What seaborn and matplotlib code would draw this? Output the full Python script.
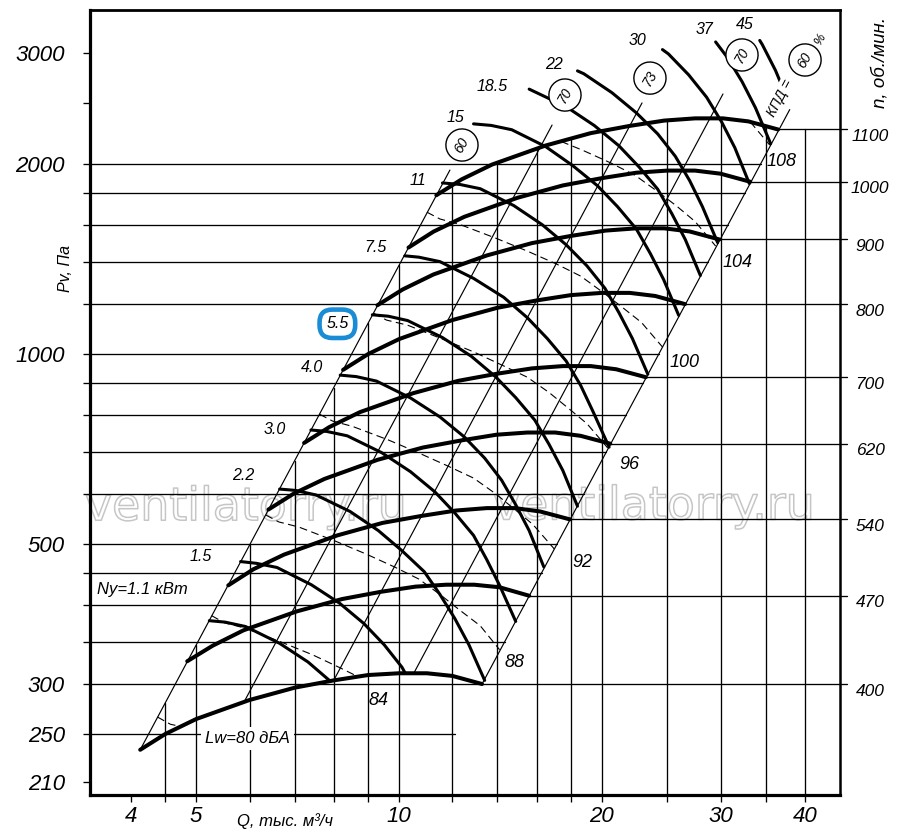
import numpy as np
import pandas as pd
import matplotlib
matplotlib.use("Agg")
import matplotlib.pyplot as plt
import matplotlib.patheffects as pe
from matplotlib.ticker import FixedLocator, FixedFormatter, NullLocator
import seaborn as sns

# ---------- data (Q in thousand m3/h, Pv in Pa) ----------
rpm_labels = ["400", "470", "540", "620", "700", "800", "900", "1000", "1100"]
rpm_Q = [
    [4.13, 4.5, 5.0, 6.0, 7.0, 8.0, 9.0, 10.0, 11.0, 12.0, 13.28],
    [4.85, 5.29, 5.88, 7.05, 8.23, 9.40, 10.58, 11.75, 12.93, 14.1, 15.6],
    [5.58, 6.08, 6.75, 8.10, 9.45, 10.8, 12.15, 13.5, 14.85, 16.2, 17.93],
    [6.40, 6.98, 7.75, 9.30, 10.85, 12.4, 13.95, 15.5, 17.05, 18.6, 20.58],
    [7.23, 7.88, 8.75, 10.5, 12.25, 14.0, 15.75, 17.5, 19.25, 21.0, 23.24],
    [8.26, 9.0, 10.0, 12.0, 14.0, 16.0, 18.0, 20.0, 22.0, 24.0, 26.56],
    [9.29, 10.13, 11.25, 13.5, 15.75, 18.0, 20.25, 22.5, 24.75, 27.0, 29.88],
    [10.33, 11.25, 12.5, 15.0, 17.5, 20.0, 22.5, 25.0, 27.5, 30.0, 33.2],
    [11.36, 12.38, 13.75, 16.5, 19.25, 22.0, 24.75, 27.5, 30.25, 33.0, 36.52],
]
rpm_P = [
    [236, 250, 264, 283, 296, 304, 310, 312, 312, 309, 300],
    [326, 345, 365, 391, 409, 420, 428, 431, 431, 427, 414],
    [430, 456, 481, 516, 540, 554, 565, 570, 570, 563, 547],
    [567, 601, 634, 680, 711, 730, 745, 751, 751, 742, 721],
    [723, 766, 809, 867, 907, 931, 949, 957, 957, 946, 919],
    [944, 1000, 1056, 1132, 1184, 1216, 1240, 1250, 1250, 1236, 1200],
    [1195, 1266, 1337, 1433, 1499, 1539, 1569, 1582, 1582, 1564, 1519],
    [1475, 1563, 1650, 1769, 1850, 1900, 1938, 1953, 1953, 1931, 1875],
    [1785, 1891, 1997, 2140, 2239, 2299, 2344, 2363, 2363, 2337, 2269],
]

power_labels = ["1.1", "1.5", "2.2", "3.0", "4.0", "5.5", "7.5", "11", "15", "18.5", "22", "30", "37", "45"]
power_Q = [
    [5.23, 5.52, 5.92, 6.65, 7.33, 7.91],
    [5.82, 6.14, 6.59, 7.41, 8.16, 8.87, 9.51, 10.1, 10.2],
    [6.65, 7.02, 7.53, 8.46, 9.32, 10.1, 10.9, 11.5, 12.1, 12.7, 13.4],
    [7.40, 7.81, 8.38, 9.42, 10.4, 11.3, 12.1, 12.9, 13.5, 14.1, 14.9],
    [8.18, 8.64, 9.26, 10.4, 11.5, 12.5, 13.4, 14.2, 14.9, 15.6, 16.4],
    [9.13, 9.64, 10.3, 11.6, 12.8, 13.9, 14.9, 15.9, 16.7, 17.5, 18.4],
    [10.2, 10.7, 11.5, 12.9, 14.3, 15.5, 16.6, 17.7, 18.6, 19.4, 20.5],
    [11.6, 12.3, 13.2, 14.8, 16.3, 17.7, 19.0, 20.2, 21.2, 22.2, 23.4],
    [12.9, 13.7, 14.7, 16.5, 18.1, 19.7, 21.1, 22.5, 23.6, 24.7, 26.0],
    [15.6, 17.7, 19.5, 21.2, 22.7, 24.2, 25.4, 26.6, 28.0],
    [18.4, 18.8, 20.7, 22.5, 24.2, 25.7, 27.0, 28.2, 29.7],
    [24.6, 25.1, 26.9, 28.6, 30.1, 31.5, 33.1],
    [29.5, 30.7, 32.3, 33.8, 35.6],
    [34.3, 34.6, 36.2, 36.8],
]
power_P = [
    [378, 376, 370, 348, 325, 303],
    [469, 466, 459, 431, 403, 374, 346, 319, 313],
    [611, 608, 598, 563, 525, 488, 452, 416, 381, 346, 304],
    [758, 754, 742, 698, 651, 605, 560, 516, 472, 430, 377],
    [926, 921, 906, 852, 795, 739, 684, 631, 577, 525, 460],
    [1154, 1148, 1130, 1062, 992, 921, 853, 786, 719, 654, 574],
    [1431, 1424, 1401, 1318, 1230, 1142, 1058, 975, 892, 811, 712],
    [1867, 1857, 1828, 1719, 1604, 1490, 1380, 1272, 1163, 1058, 929],
    [2316, 2303, 2267, 2132, 1989, 1848, 1712, 1578, 1443, 1312, 1152],
    [2629, 2466, 2301, 2138, 1980, 1825, 1669, 1518, 1332],
    [2810, 2781, 2595, 2411, 2233, 2058, 1882, 1712, 1502],
    [3037, 2990, 2770, 2553, 2334, 2123, 1863],
    [3123, 2952, 2700, 2456, 2155],
    [3140, 3093, 2814, 2698],
]

noise_labels = ["80", "84", "88", "92", "96", "100", "104", "108"]
noise_Q = [
    [4.38, 4.58, 4.74],
    [5.27, 5.51, 5.9, 6.67, 7.43, 8.19, 8.7],
    [6.34, 6.63, 7.1, 8.02, 8.94, 9.84, 10.7, 11.5, 12.3, 13.2, 14.1],
    [7.62, 7.97, 8.53, 9.64, 10.7, 11.8, 12.9, 13.9, 14.8, 15.8, 17.0],
    [9.16, 9.58, 10.3, 11.6, 12.9, 14.2, 15.5, 16.7, 17.8, 19.0, 20.4],
    [11.0, 11.5, 12.3, 13.9, 15.5, 17.1, 18.6, 20.0, 21.4, 22.9, 24.6],
    [17.4, 18.7, 20.6, 22.4, 24.1, 25.8, 27.5, 29.5],
    [33.2, 35.5],
]
noise_P = [
    [266, 259, 257],
    [385, 375, 368, 350, 334, 318, 308],
    [556, 542, 532, 506, 482, 460, 440, 416, 393, 371, 340],
    [803, 783, 768, 731, 697, 665, 636, 601, 569, 537, 491],
    [1161, 1132, 1111, 1056, 1008, 961, 919, 869, 822, 776, 710],
    [1678, 1637, 1605, 1527, 1456, 1390, 1329, 1256, 1188, 1122, 1026],
    [2172, 2105, 2009, 1920, 1815, 1717, 1622, 1483],
    [2333, 2143],
]

eff_labels = ["60", "70", "73", "70", "60"]
eff_Q = [[4.13, 11.9], [5.9, 16.87], [8.0, 22.94], [10.5, 30.25], [13.28, 38.0]]
eff_P = [[236, 1957], [282, 2306], [304, 2500], [311, 2583], [300, 2440]]

grid_P = [250, 300, 350, 400, 450, 500, 600, 700, 800, 900, 1000, 1200, 1400, 1600, 1800, 2000]
grid_Q = [4.5, 5, 6, 7, 8, 9, 10, 12, 14, 16, 18, 20, 25, 30, 35, 40]

x_ticks = [4, 5, 10, 20, 30, 40]
y_ticks = [210, 250, 300, 500, 1000, 2000, 3000]

# label anchors (data units)
eff_label_Q = [12.40, 17.63, 23.57, 32.28, 40.04]
eff_label_P = [2144, 2573, 2737, 2978, 2924]
noise_label_Q = [9.31, 14.86, 18.68, 22.0, 26.57, 31.84, 37.0]
noise_label_P = [283, 324, 467, 669, 968, 1399, 2022]

# ---------- layout ----------
QMIN, QMAX, PMIN, PMAX = 3.479, 45.12, 200.1, 3509
PX = 0.72  # points per pixel at 100 dpi
power_offsets_px = [(0, 0), (-40, 5), (-36, 14), (-36, 0), (-28, 8), (-35, -9), (-29, 8),
                    (-25, 2), (-18, 6), (-37, 3), (-24, 6), (-25, 9), (-11, 12), (-15, 16)]

sns.set_theme(style="white")
plt.rcParams["font.family"] = ["Liberation Sans", "DejaVu Sans"]
plt.rcParams["font.style"] = "italic"
plt.rcParams["text.color"] = "black"
plt.rcParams["axes.edgecolor"] = "black"
plt.rcParams["xtick.color"] = "black"
plt.rcParams["ytick.color"] = "black"

fig = plt.figure(figsize=(9, 8.38), dpi=100)
ax = fig.add_axes([90 / 900, 1 - 795 / 838, 750 / 900, 785 / 838])
ax.set_xscale("log")
ax.set_yscale("log")
ax.set_xlim(QMIN, QMAX)
ax.set_ylim(PMIN, PMAX)


def long_frame(qs, ps, names):
    rows = []
    for name, q, p in zip(names, qs, ps):
        for a, b in zip(q, p):
            rows.append((name, a, b))
    return pd.DataFrame(rows, columns=["curve", "Q", "P"])


def q_on_line(lq, lp, P):
    return 10 ** (lq[0] + (np.log10(P) - lp[0]) * (lq[1] - lq[0]) / (lp[1] - lp[0]))


def p_on_line(lq, lp, Q):
    return 10 ** (lp[0] + (np.log10(Q) - lq[0]) * (lp[1] - lp[0]) / (lq[1] - lq[0]))


lqL, lpL = np.log10(eff_Q[0]), np.log10(eff_P[0])
lqR, lpR = np.log10(eff_Q[-1]), np.log10(eff_P[-1])

# horizontal grid, left spine -> right limit ray
for p in grid_P:
    ax.plot([QMIN, q_on_line(lqR, lpR, p)], [p, p], color="black", lw=0.95, zorder=1)

# vertical grid, bottom -> upper envelope (left ray / 1100 rpm curve)
top_q, top_p = rpm_Q[-1], rpm_P[-1]
for q in grid_Q:
    if q < top_q[0]:
        ptop = p_on_line(lqL, lpL, q)
    else:
        ptop = 10 ** np.interp(np.log10(q), np.log10(top_q), np.log10(top_p))
    ax.plot([q, q], [PMIN, ptop], color="black", lw=0.95, zorder=1)

# rpm reference lines out to the right scale
for q, p in zip(rpm_Q, rpm_P):
    ax.plot([q[-1], 46.2], [p[-1], p[-1]], color="black", lw=0.95, zorder=1, clip_on=False)

sns.lineplot(data=long_frame(eff_Q, eff_P, range(len(eff_Q))), x="Q", y="P", units="curve",
             estimator=None, sort=False, color="black", lw=0.85, ax=ax, legend=False, zorder=2)
sns.lineplot(data=long_frame(noise_Q, noise_P, noise_labels), x="Q", y="P", units="curve",
             estimator=None, sort=False, color="black", lw=0.8, ax=ax, legend=False, zorder=2,
             linestyle=(0, (7, 4)))
sns.lineplot(data=long_frame(power_Q, power_P, power_labels), x="Q", y="P", units="curve",
             estimator=None, sort=False, color="black", lw=2.2, ax=ax, legend=False, zorder=3)
sns.lineplot(data=long_frame(rpm_Q, rpm_P, rpm_labels), x="Q", y="P", units="curve",
             estimator=None, sort=False, color="black", lw=2.9, ax=ax, legend=False, zorder=4)
ax.set_xlabel("")
ax.set_ylabel("")

# ticks
ax.xaxis.set_major_locator(FixedLocator([4] + grid_Q))
ax.xaxis.set_major_formatter(FixedFormatter([str(v) if v in x_ticks else "" for v in [4] + grid_Q]))
ax.xaxis.set_minor_locator(NullLocator())
ytick_vals = sorted(set(grid_P + [210, 2500, 3000]))
ax.yaxis.set_major_locator(FixedLocator(ytick_vals))
ax.yaxis.set_major_formatter(FixedFormatter([str(v) if v in y_ticks else "" for v in ytick_vals]))
ax.yaxis.set_minor_locator(NullLocator())
ax.tick_params(axis="both", which="major", direction="out", length=5, width=0.95,
               bottom=True, left=True, labelsize=16)
ax.tick_params(axis="x", pad=3)
ax.tick_params(axis="y", pad=13)
for side, w in [("left", 2.3), ("bottom", 2.3), ("top", 2.0), ("right", 1.8)]:
    ax.spines[side].set_linewidth(w)
    ax.spines[side].set_color("black")

# rpm scale
for lab, p in zip(rpm_labels, rpm_P):
    ax.annotate(lab, xy=(1.0, p[-1]), xycoords=ax.get_yaxis_transform(), xytext=(30 * PX, -7 * PX),
                textcoords="offset points", ha="center", va="center", fontsize=12.5, annotation_clip=False)

# motor power labels
for lab, q, p, off in zip(power_labels, power_Q, power_P, power_offsets_px):
    if lab == "1.1":
        continue
    kw = {}
    if lab == "5.5":
        kw["bbox"] = dict(boxstyle="round,pad=0.42,rounding_size=0.8", fc="white", ec="#1a8bd5", lw=3.3)
    ax.annotate(lab, xy=(q[0], p[0]), xytext=(off[0] * PX, off[1] * PX), textcoords="offset points",
                ha="center", va="center", fontsize=11.5, zorder=6, **kw)
ax.text(3.565, 423, "Ny=1.1 кВт", fontsize=12, ha="left", va="center", zorder=6)

# sound power labels
for lab, q, p in zip(noise_labels[1:], noise_label_Q, noise_label_P):
    ax.text(q, p, lab, fontsize=13, ha="center", va="center", zorder=6)
ax.text(5.155, 246, "Lw=80 дБА", fontsize=12, ha="left", va="center", zorder=6,
        bbox=dict(boxstyle="square,pad=0.25", fc="white", ec="none"))

# efficiency marks
for lab, q, p in zip(eff_labels, eff_label_Q, eff_label_P):
    ax.text(q, p, lab, fontsize=10, rotation=60, ha="center", va="center", zorder=6,
            bbox=dict(boxstyle="circle,pad=0.6", fc="white", ec="black", lw=1.0))
ax.text(42.13, 3146, "%", fontsize=9, rotation=60, ha="center", va="center", zorder=6)
ax.text(36.75, 2545, "КПД =", fontsize=10, rotation=62, ha="center", va="center", zorder=6,
        bbox=dict(boxstyle="square,pad=0.1", fc="white", ec="none"))

# axis titles
fig.text(285 / 900, 1 - 821 / 838, "Q, тыс. м³/ч", fontsize=12, ha="center", va="center")
fig.text(65 / 900, 1 - 268 / 838, "Pv, Па", fontsize=11.5, rotation=90, ha="center", va="center")
fig.text(880 / 900, 1 - 62 / 838, "n, об./мин.", fontsize=13.5, rotation=90, ha="center", va="center")

# watermark
for xf, yf in [(0.208, 0.350), (0.752, 0.351)]:
    ax.text(xf, yf, "ventilatorry.ru", transform=ax.transAxes, fontsize=33, style="normal",
            family="DejaVu Sans", color=(1, 1, 1, 0), ha="center", va="baseline", zorder=0.5,
            path_effects=[pe.Stroke(linewidth=1.1, foreground="#c6c6c6"), pe.Normal()])

fig.savefig("out.png", dpi=100)
